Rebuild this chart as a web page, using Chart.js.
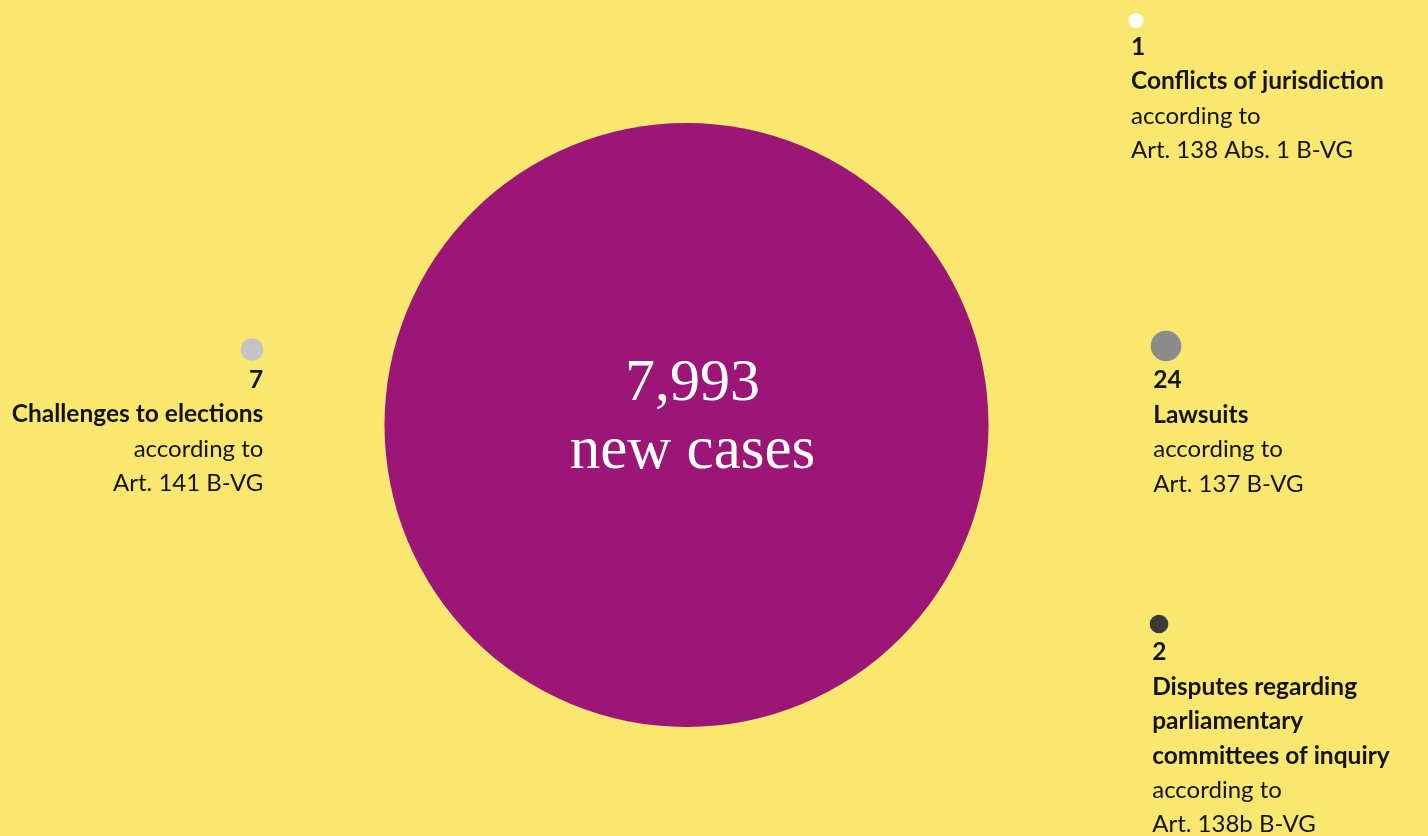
<!DOCTYPE html>
<html>
<head>
<meta charset="utf-8">
<script src="https://cdn.jsdelivr.net/npm/chart.js@4/dist/chart.umd.min.js"></script>
<style>
  html, body { margin: 0; padding: 0; background: #F9E76F; overflow: hidden; }
  #wrap { width: 1428px; height: 836px; }
</style>
</head>
<body>
<div id="wrap"><canvas id="c" width="1428" height="836"></canvas></div>
<script>
// ---- data ----
const categories = ["new cases", "Conflicts of jurisdiction", "Challenges to elections", "Lawsuits", "Disputes regarding parliamentary committees of inquiry"];
const caseCounts = [7993, 1, 7, 24, 2];
const legalBasis = ["", "Art. 138 Abs. 1 B-VG", "Art. 141 B-VG", "Art. 137 B-VG", "Art. 138b B-VG"];
const titleLines = [[], ["Conflicts of jurisdiction"], ["Challenges to elections"], ["Lawsuits"], ["Disputes regarding", "parliamentary", "committees of inquiry"]];

// ---- layout (abstract layout units, 0..1428 x 0..836) ----
const layoutX = [686.5, 1136, 252, 1166, 1159];
const layoutY = [425, 20.5, 349.5, 346, 624];
const bubbleRadius = [302, 7.5, 11.3, 15.3, 9.3];
const labelSide = ["center", "right", "left", "right", "right"];
const bubbleColors = ["#9B1677", "#FFFFFF", "#C3C3C3", "#8C8C8C", "#3A3A3A"];

const fmt = new Intl.NumberFormat("en-US");

// keep the bubble controller from shrinking the chart area by the largest radius
const BubbleCtrl = Chart.registry.getController("bubble");
BubbleCtrl.prototype.getMaxOverflow = function () { return 0; };

const labelPlugin = {
  id: "labels",
  afterDatasetsDraw(chart) {
    const ctx = chart.ctx;
    const meta = chart.getDatasetMeta(0);
    meta.data.forEach((el, i) => {
      const r = el.options.radius;
      ctx.save();
      if (labelSide[i] === "center") {
        ctx.fillStyle = "#FFFFFF";
        ctx.textAlign = "center";
        ctx.textBaseline = "alphabetic";
        ctx.font = "60px 'Liberation Serif', serif";
        ctx.fillText(fmt.format(caseCounts[i]), el.x + 6, el.y - 25);
        ctx.font = "61px 'Liberation Serif', serif";
        ctx.fillText(categories[i], el.x + 6, el.y + 43);
      } else {
        const lines = [];
        lines.push({ t: String(caseCounts[i]), b: true });
        titleLines[i].forEach(t => lines.push({ t, b: true }));
        lines.push({ t: "according to", b: false });
        lines.push({ t: legalBasis[i], b: false });
        const left = labelSide[i] === "left";
        const tx = left ? el.x + r : el.x - r + 2.5;
        ctx.textAlign = left ? "right" : "left";
        ctx.textBaseline = "alphabetic";
        ctx.fillStyle = "#141414";
        let y = el.y + r + 27;
        lines.forEach(l => {
          ctx.font = (l.b ? "bold 24.5px" : "24px") + " Lato, sans-serif";
          ctx.fillText(l.t, tx, y);
          y += 34.4;
        });
      }
      ctx.restore();
    });
  }
};

new Chart(document.getElementById("c"), {
  type: "bubble",
  data: {
    datasets: [{
      label: "Cases",
      data: caseCounts.map((v, i) => ({ x: layoutX[i], y: layoutY[i], r: bubbleRadius[i], v })),
      backgroundColor: bubbleColors,
      borderWidth: 0,
      hoverBorderWidth: 0,
      clip: false
    }]
  },
  options: {
    responsive: false,
    animation: false,
    events: [],
    layout: { padding: 0 },
    plugins: { legend: { display: false }, tooltip: { enabled: false } },
    scales: {
      x: { type: "linear", min: 0, max: 1428, display: false },
      y: { type: "linear", min: 0, max: 836, reverse: true, display: false }
    }
  },
  plugins: [labelPlugin]
});
</script>
</body>
</html>
